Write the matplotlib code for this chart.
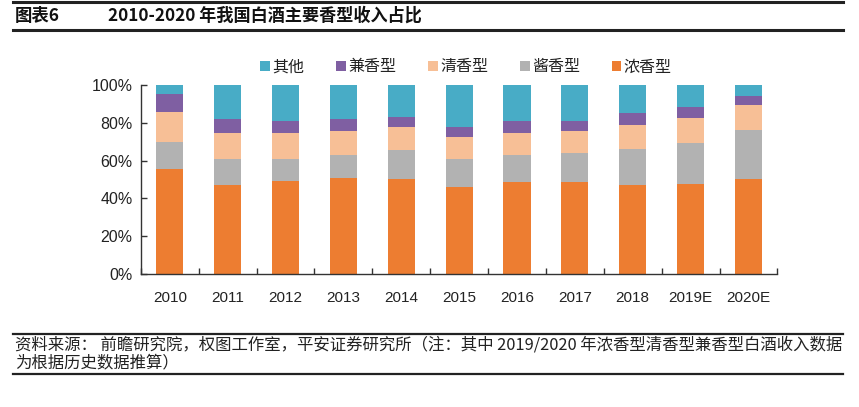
import matplotlib
matplotlib.use("Agg")
import matplotlib.pyplot as plt
from matplotlib.patches import Patch
from matplotlib.lines import Line2D
import numpy as np

plt.rcParams['font.family'] = ['Liberation Sans', 'Noto Sans CJK SC', 'DejaVu Sans']

years = ["2010", "2011", "2012", "2013", "2014", "2015", "2016", "2017", "2018", "2019E", "2020E"]
nong = [55.4, 47.1, 49.2, 50.8, 50.1, 46.2, 48.5, 48.5, 47.1, 47.8, 50.1]   # 浓香型
jiang = [14.6, 13.7, 11.6, 12.3, 15.3, 14.6, 14.6, 15.3, 19.2, 21.7, 26.3]  # 酱香型
qing = [15.9, 14.0, 14.0, 12.4, 12.6, 11.7, 11.7, 11.7, 12.4, 13.0, 13.2]   # 清香型
jian = [9.2, 7.0, 6.2, 6.3, 5.2, 5.3, 6.2, 5.5, 6.3, 5.7, 4.8]             # 兼香型
other = [4.9, 18.2, 19.0, 18.2, 16.8, 22.2, 19.0, 19.0, 15.0, 11.8, 5.6]    # 其他

series = [("浓香型", nong, "#ED7D31"),
          ("酱香型", jiang, "#B2B2B2"),
          ("清香型", qing, "#F7BF96"),
          ("兼香型", jian, "#7F5FA2"),
          ("其他", other, "#48ACC6")]

fig = plt.figure(figsize=(8.59, 4.07), dpi=100)
ax = fig.add_axes([0.164, 0.327, 0.741, 0.464])

x = np.arange(len(years))
bottom = np.zeros(len(years))
for name, vals, col in series:
    v = np.array(vals)
    ax.bar(x, v, 0.47, bottom=bottom, color=col, edgecolor='none', label=name)
    bottom += v

ax.set_xlim(-0.5, len(years) - 0.5)
ax.set_ylim(0, 100)
ax.set_yticks(np.arange(0, 101, 20))
ax.set_yticklabels([f"{v}%" for v in range(0, 101, 20)], fontsize=11.5, color='#222222')
ax.set_xticks(x)
ax.set_xticklabels(years, fontsize=11, color='#222222')
ax.tick_params(axis='x', which='major', length=0, pad=12)
ax.set_xticks(np.arange(-0.5, len(years)), minor=True)
ax.tick_params(axis='x', which='minor', direction='in', length=4, width=1, color='#333333')
ax.tick_params(axis='y', direction='in', length=4, width=1, color='#333333', pad=6)
for s in ['top', 'right']:
    ax.spines[s].set_visible(False)
for s in ['left', 'bottom']:
    ax.spines[s].set_color('#333333')
    ax.spines[s].set_linewidth(1.0)

handles = [Patch(facecolor=c, edgecolor='none', label=n) for n, v, c in reversed(series)]
fig.legend(handles=handles, loc='center', bbox_to_anchor=(466 / 859, 1 - 67 / 407), ncol=5,
           frameon=False, handlelength=0.6, handleheight=0.6,
           handletextpad=0.15, columnspacing=2.0,
           prop={'family': ['Noto Sans CJK SC'], 'size': 11.5, 'weight': 'medium'},
           labelcolor='#222222')

# Title and decorative lines
fig.add_artist(Line2D([13 / 859, 843 / 859], [1 - 2 / 407, 1 - 2 / 407], color='#222222', lw=2.2))
fig.add_artist(Line2D([13 / 859, 843 / 859], [1 - 30 / 407, 1 - 30 / 407], color='#222222', lw=2.2))
fig.text(15 / 859, 1 - 16 / 407, "图表6", fontsize=12.5, fontweight='bold',
         family=['Noto Sans CJK SC'], va='center', ha='left', color='#111111')
fig.text(108 / 859, 1 - 16 / 407, "2010-2020 年我国白酒主要香型收入占比", fontsize=12.3, fontweight='bold',
         family=['Noto Sans CJK SC'], va='center', ha='left', color='#111111')

# Footer
fig.add_artist(Line2D([13 / 859, 843 / 859], [1 - 334 / 407, 1 - 334 / 407], color='#222222', lw=1.6))
fig.add_artist(Line2D([13 / 859, 843 / 859], [1 - 374 / 407, 1 - 374 / 407], color='#222222', lw=1.6))
fig.text(15 / 859, 1 - 345 / 407,
         "资料来源： 前瞻研究院，权图工作室，平安证券研究所（注：其中 2019/2020 年浓香型清香型兼香型白酒收入数据",
         fontsize=11.8, family=['Noto Sans CJK SC'], va='center', ha='left', color='#222222')
fig.text(15 / 859, 1 - 363 / 407, "为根据历史数据推算）",
         fontsize=11.8, family=['Noto Sans CJK SC'], va='center', ha='left', color='#222222')

fig.savefig("out.png", dpi=100)
